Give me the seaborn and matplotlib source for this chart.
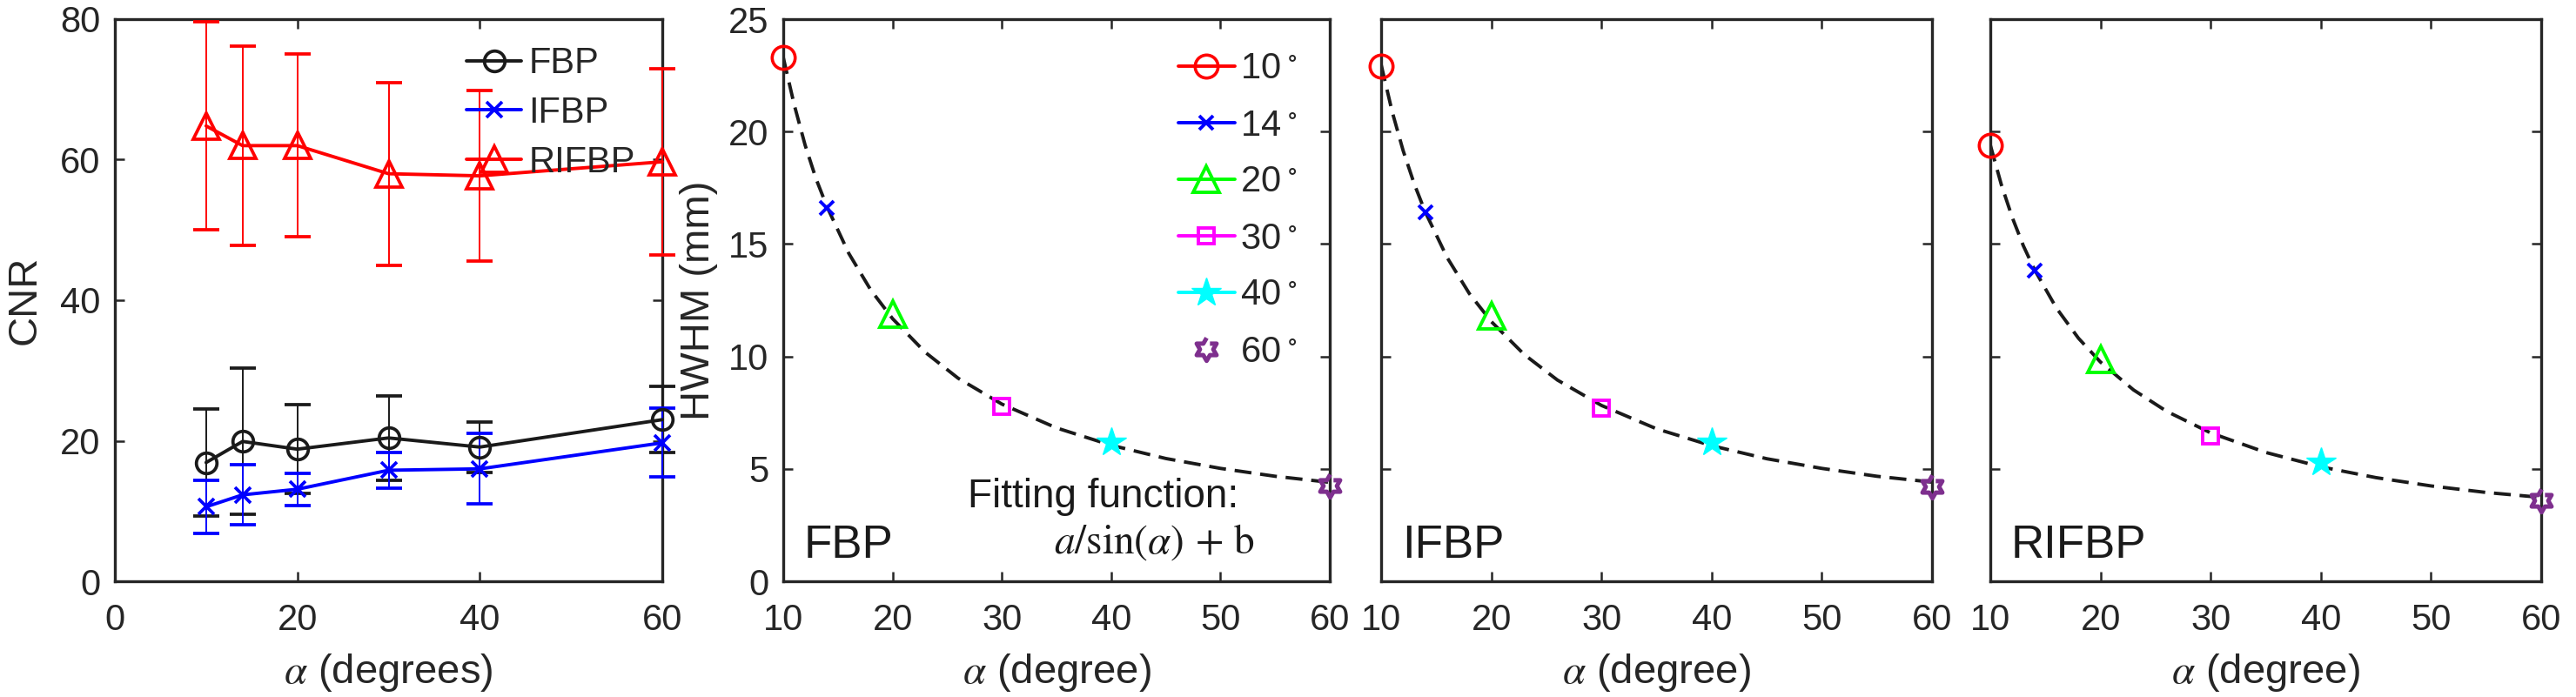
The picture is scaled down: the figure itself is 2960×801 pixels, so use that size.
import numpy as np
import matplotlib
matplotlib.use('Agg')
import matplotlib.pyplot as plt
import seaborn as sns

# view angles (degrees)
angles = [10, 14, 20, 30, 40, 60]

# CNR, left panel (mean and error bar half-length)
cnr_fbp = [16.9, 19.9, 18.8, 20.4, 19.1, 23.0]
cnr_fbp_err = [7.6, 10.4, 6.3, 6.0, 3.6, 4.7]
cnr_ifbp = [10.6, 12.3, 13.1, 15.8, 16.0, 19.7]
cnr_ifbp_err = [3.8, 4.3, 2.3, 2.5, 5.0, 4.9]
cnr_rifbp = [64.8, 62.0, 62.0, 58.0, 57.7, 59.7]
cnr_rifbp_err = [14.8, 14.2, 13.0, 13.0, 12.1, 13.3]

# HWHM (mm) per method
hwhm_fbp = [23.3, 16.6, 11.9, 7.76, 6.18, 4.25]
hwhm_ifbp = [22.9, 16.4, 11.8, 7.70, 6.18, 4.2]
hwhm_rifbp = [19.4, 13.8, 9.87, 6.47, 5.29, 3.6]

# dashed fitting curves
fit_x = [10, 11, 12, 13, 14, 16, 18, 20, 23, 26, 30, 35, 40, 45, 50, 55, 60]
fit_fbp = [23.3, 21.2, 19.4, 17.9, 16.66, 14.58, 12.96, 11.68, 10.18, 9.03, 7.88,
           6.82, 6.05, 5.46, 5.02, 4.67, 4.40]
fit_ifbp = [22.98, 20.89, 19.15, 17.68, 16.43, 14.39, 12.80, 11.55, 10.08, 8.95, 7.82,
            6.78, 6.03, 5.45, 5.02, 4.67, 4.41]
fit_rifbp = [19.40, 17.64, 16.17, 14.92, 13.87, 12.15, 10.81, 9.75, 8.51, 7.56, 6.60,
             5.73, 5.09, 4.61, 4.24, 3.95, 3.73]

panel_names = ['FBP', 'IFBP', 'RIFBP']
angle_labels = [r'10$^{\,\circ}$', r'14$^{\,\circ}$', r'20$^{\,\circ}$',
                r'30$^{\,\circ}$', r'40$^{\,\circ}$', r'60$^{\,\circ}$']

sns.set_theme(style='ticks')
plt.rcParams['font.family'] = ['Liberation Sans', 'DejaVu Sans']
plt.rcParams['mathtext.fontset'] = 'stix'

dark = '#262626'
purple = '#7E2F8E'

# hexagram outline marker
t = np.deg2rad(90 + 30 * np.arange(12))
r = np.where(np.arange(12) % 2 == 0, 1.0, 1 / np.sqrt(3))
hexagram = list(zip(r * np.cos(t), r * np.sin(t)))

marker_styles = [
    dict(marker='o', color='#FF0000', ms=19, mfc='none', mew=2.6, ls='-'),
    dict(marker='x', color='#0000FF', ms=12, mew=2.8, ls='-'),
    dict(marker='^', color='#00FF00', ms=21, mfc='none', mew=2.8, ls='-'),
    dict(marker='s', color='#FF00FF', ms=13, mfc='none', mew=2.8, ls='-'),
    dict(marker='*', color='#00FFFF', ms=25, ls='-'),
    dict(marker=hexagram, color=purple, ms=19, mfc='none', mew=3.6, ls='none'),
]

fig = plt.figure(figsize=(29.6, 8.01), dpi=100)
boxes = [(132, 761), (900, 1528), (1587, 2220), (2287, 2920)]
axes = [fig.add_axes([l / 2960, 1 - 668 / 801, (r_ - l) / 2960, 646 / 801])
        for l, r_ in boxes]

for ax in axes:
    ax.set_facecolor('white')
    ax.tick_params(direction='in', length=8, width=1.8, top=True, right=True,
                   labelsize=30, colors=dark)
    ax.tick_params(axis='x', pad=18)
    ax.tick_params(axis='y', pad=12)
    for s in ax.spines.values():
        s.set_color(dark)
        s.set_linewidth(2.4)

# --- CNR panel
ax = axes[0]
handles = []
for vals, err, col, mk, ms, name in [
        (cnr_fbp, cnr_fbp_err, 'k', 'o', 17, 'FBP'),
        (cnr_ifbp, cnr_ifbp_err, '#0000FF', 'x', 13, 'IFBP'),
        (cnr_rifbp, cnr_rifbp_err, '#FF0000', '^', 21, 'RIFBP')]:
    eb = ax.errorbar(angles, vals, yerr=err, color=col, marker=mk, ms=ms,
                     mfc='none', mew=2.7, lw=2.8, elinewidth=1.4, capsize=11,
                     capthick=1.4, clip_on=False, zorder=3)
    eb[0].set_label(name)
    handles.append(eb[0])
ax.set_xlim(0, 60)
ax.set_ylim(0, 80)
ax.set_xticks([0, 20, 40, 60])
ax.set_yticks([0, 20, 40, 60, 80])
ax.set_ylabel('CNR', fontsize=34, color=dark)
ax.yaxis.set_label_coords(-0.130, 0.5)
ax.set_xlabel(r'$\alpha$ (degrees)', fontsize=34, color=dark)
ax.xaxis.set_label_coords(0.5, -0.125)
ax.legend(handles=handles, loc='upper right', bbox_to_anchor=(1.0, 1.0),
          frameon=False, fontsize=30, handlelength=1.5, handletextpad=0.2,
          labelspacing=0.4, borderaxespad=0.35)

# --- HWHM panels
for k, (ax, vals, fit, name) in enumerate(zip(axes[1:], [hwhm_fbp, hwhm_ifbp, hwhm_rifbp],
                                              [fit_fbp, fit_ifbp, fit_rifbp], panel_names)):
    sns.lineplot(x=fit_x, y=fit, ax=ax, color='k', lw=2.8,
                 linestyle=(0, (5, 2.6)), legend=False, zorder=2)
    for a, v, st, lab in zip(angles, vals, marker_styles, angle_labels):
        ax.plot([a], [v], label=lab, clip_on=False, zorder=3, lw=2.8, **st)
    ax.set_xlim(10, 60)
    ax.set_ylim(0, 25)
    ax.set_xticks([10, 20, 30, 40, 50, 60])
    ax.set_yticks([0, 5, 10, 15, 20, 25])
    ax.set_xlabel(r'$\alpha$ (degree)', fontsize=34, color=dark)
    ax.xaxis.set_label_coords(0.5, -0.125)
    ax.text(0.038, 0.042, name, transform=ax.transAxes, fontsize=38,
            color='k', ha='left', va='baseline')
    if k == 0:
        ax.set_ylabel('HWHM (mm)', fontsize=34, color=dark)
        ax.yaxis.set_label_coords(-0.119, 0.5)
        ax.legend(loc='upper right', bbox_to_anchor=(1.0, 1.0), frameon=False,
                  fontsize=30, handlelength=1.55, handletextpad=0.15,
                  labelspacing=0.6, borderaxespad=0.5)
        ax.text(0.833, 0.132, 'Fitting function:', transform=ax.transAxes,
                fontsize=33, color='k', ha='right', va='baseline')
        ax.text(0.863, 0.050, r'$a/\sin(\alpha)\,+\,\mathrm{b}$', transform=ax.transAxes,
                fontsize=34, color='k', ha='right', va='baseline')
    else:
        ax.set_yticklabels([])
        ax.set_ylabel('')

fig.savefig('out.png', dpi=100, facecolor='white')
plt.close('all')
